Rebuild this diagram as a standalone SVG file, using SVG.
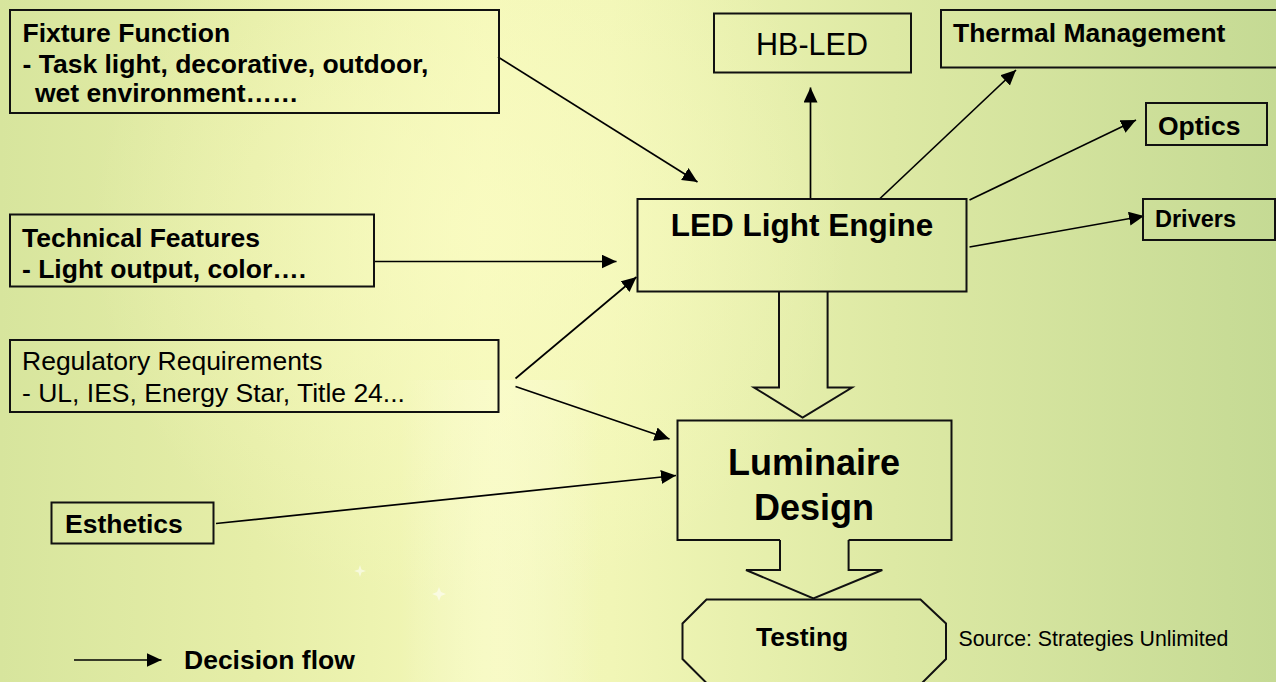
<svg xmlns="http://www.w3.org/2000/svg" width="1276" height="682" viewBox="0 0 1276 682">
  <defs>
    <linearGradient id="bgH" x1="0" y1="0" x2="1" y2="0">
      <stop offset="0" stop-color="#d7e59d"/>
      <stop offset="0.2" stop-color="#e6eea8"/>
      <stop offset="0.38" stop-color="#f4f8b8"/>
      <stop offset="0.48" stop-color="#f1f6b6"/>
      <stop offset="0.7" stop-color="#dde9a4"/>
      <stop offset="1" stop-color="#c5da94"/>
    </linearGradient>
    <radialGradient id="glow" cx="470" cy="230" r="380" gradientUnits="userSpaceOnUse">
      <stop offset="0" stop-color="#fbfcc4" stop-opacity="0.7"/>
      <stop offset="1" stop-color="#fbfcc4" stop-opacity="0"/>
    </radialGradient>
    <linearGradient id="beam" x1="0" y1="0" x2="1" y2="0">
      <stop offset="0" stop-color="#ffffff" stop-opacity="0"/>
      <stop offset="0.5" stop-color="#ffffe0" stop-opacity="0.35"/>
      <stop offset="1" stop-color="#ffffff" stop-opacity="0"/>
    </linearGradient>
    <marker id="ah" markerUnits="userSpaceOnUse" markerWidth="16" markerHeight="15" refX="15" refY="7" orient="auto">
      <path d="M0,0 L15,7 L0,14 z" fill="#000"/>
    </marker>
    <style>
      .box { fill: none; stroke: #111; stroke-width: 2; }
      .ln { fill: none; stroke: #000; stroke-width: 1.7; marker-end: url(#ah); }
      .shape { fill: none; stroke: #111; stroke-width: 2; stroke-linejoin: miter; }
      .b { font-family: "Liberation Sans", Arial, sans-serif; font-weight: bold; font-size: 26.5px; fill: #000; }
      .r { font-family: "Liberation Sans", Arial, sans-serif; font-weight: normal; font-size: 26.5px; fill: #000; }
      .star { fill: #ffffff; opacity: 0.55; }
    </style>
  </defs>

  <g id="background">
    <rect x="0" y="0" width="1276" height="682" fill="url(#bgH)"/>
    <rect x="0" y="0" width="1276" height="682" fill="url(#glow)"/>
    <rect x="400" y="380" width="200" height="302" fill="url(#beam)"/>
    <path class="star" d="M360,565 L361.5,569.5 L366,571 L361.5,572.5 L360,577 L358.5,572.5 L354,571 L358.5,569.5 z"/>
    <path class="star" d="M439,587 L441,592 L446,594 L441,596 L439,601 L437,596 L432,594 L437,592 z"/>
  </g>

  <g id="connectors">
    <line class="ln" x1="498" y1="57" x2="697.5" y2="182"/>
    <line class="ln" x1="374" y1="261.5" x2="616.5" y2="261.5"/>
    <line class="ln" x1="515.5" y1="378.5" x2="636.5" y2="277"/>
    <line class="ln" x1="515.5" y1="386.5" x2="669.5" y2="439"/>
    <line class="ln" x1="216" y1="523.5" x2="676" y2="475.5"/>
    <line class="ln" x1="810.5" y1="199" x2="810.5" y2="87.5"/>
    <line class="ln" x1="880" y1="198.5" x2="1016" y2="70"/>
    <line class="ln" x1="969.5" y1="200" x2="1136" y2="120"/>
    <line class="ln" x1="969.5" y1="247" x2="1144" y2="216"/>
    <path class="shape" d="M779,292 V387.5 H754 L802.6,417.5 L852,387.5 H827.6 V292"/>
    <path class="shape" d="M780,540 V570 H746 L813.4,598.5 L882.3,570 H848.6 V540"/>
    <line class="ln" x1="74" y1="660" x2="161.5" y2="660"/>
  </g>

  <g id="fixture-function">
    <rect class="box" x="10" y="10" width="489" height="103"/>
    <text class="b" x="22.5" y="42">Fixture Function</text>
    <text class="b" x="22.5" y="73">- Task light, decorative, outdoor,</text>
    <text class="b" x="35" y="102">wet environment……</text>
  </g>

  <g id="technical-features">
    <rect class="box" x="10" y="214.5" width="364" height="72"/>
    <text class="b" x="22" y="246.5">Technical Features</text>
    <text class="b" x="22" y="278">- Light output, color….</text>
  </g>

  <g id="regulatory-requirements">
    <rect class="box" x="10" y="340" width="488.5" height="72"/>
    <text class="r" x="22" y="370">Regulatory Requirements</text>
    <text class="r" x="22" y="401.5">- UL, IES, Energy Star, Title 24...</text>
  </g>

  <g id="esthetics">
    <rect class="box" x="51.5" y="502.5" width="162" height="41"/>
    <text class="b" x="65" y="533">Esthetics</text>
  </g>

  <g id="hb-led">
    <rect class="box" x="714" y="13.5" width="197" height="59"/>
    <text class="r" x="812" y="54.5" text-anchor="middle" style="font-size:30.5px">HB-LED</text>
  </g>

  <g id="thermal-management">
    <rect class="box" x="941" y="10" width="345" height="57.5"/>
    <text class="b" x="953" y="41.5">Thermal Management</text>
  </g>

  <g id="optics">
    <rect class="box" x="1146" y="103" width="121" height="42"/>
    <text class="b" x="1158" y="135">Optics</text>
  </g>

  <g id="drivers">
    <rect class="box" x="1143" y="199" width="132" height="41"/>
    <text class="b" x="1155" y="227" style="font-size:23.5px">Drivers</text>
  </g>

  <g id="led-light-engine">
    <rect class="box" x="637.5" y="199" width="329" height="92.5"/>
    <text class="b" x="802" y="236" text-anchor="middle" style="font-size:31.5px">LED Light Engine</text>
  </g>

  <g id="luminaire-design">
    <path class="shape" d="M780,540 H677.5 V420.5 H951.5 V540 H848.6"/>
    <text class="b" x="814" y="475" text-anchor="middle" style="font-size:36px">Luminaire</text>
    <text class="b" x="814" y="520" text-anchor="middle" style="font-size:36px">Design</text>
  </g>

  <g id="testing">
    <path class="shape" d="M682.5,623.5 L706.5,599.5 H920.5 L946,623.5 V659 L919,686 H709.5 L682.5,659 Z"/>
    <text class="b" x="756" y="646">Testing</text>
  </g>

  <g id="source">
    <text class="r" x="958.5" y="645.5" style="font-size:21.3px">Source: Strategies Unlimited</text>
  </g>

  <g id="legend">
    <text class="b" x="184" y="669">Decision flow</text>
  </g>
</svg>
